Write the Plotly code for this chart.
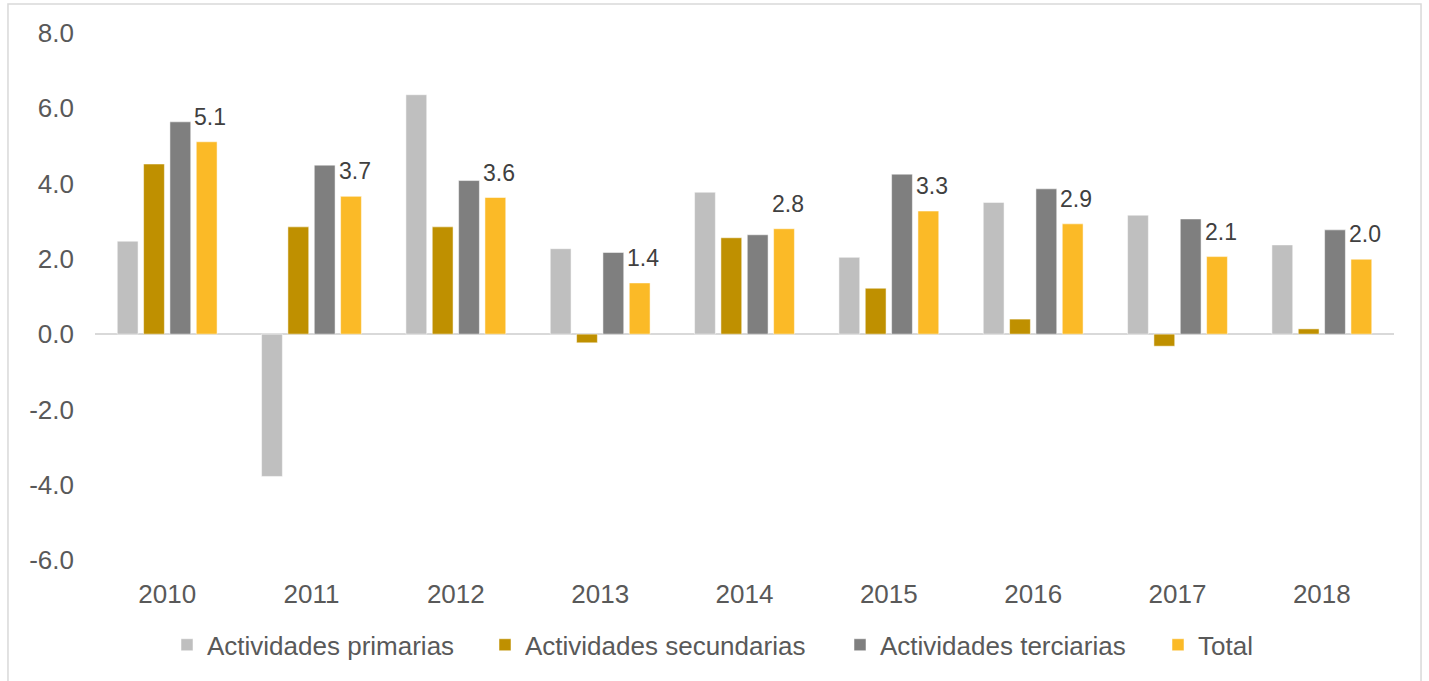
import plotly.graph_objects as go

years = ["2010", "2011", "2012", "2013", "2014", "2015", "2016", "2017", "2018"]
primarias = [2.47, -3.78, 6.36, 2.27, 3.77, 2.04, 3.50, 3.16, 2.37]
secundarias = [4.52, 2.85, 2.85, -0.23, 2.56, 1.22, 0.40, -0.32, 0.14]
terciarias = [5.64, 4.49, 4.08, 2.17, 2.64, 4.25, 3.86, 3.06, 2.77]
total = [5.11, 3.66, 3.63, 1.36, 2.80, 3.27, 2.93, 2.06, 1.99]
series_names = ["Actividades primarias", "Actividades secundarias", "Actividades terciarias", "Total"]
y_ticks = [-6, -4, -2, 0, 2, 4, 6, 8]
y_ticktext = [f"{v:.1f}" for v in y_ticks]

colors = ["#BFBFBF", "#BF9000", "#7F7F7F", "#FBBA27"]
FONT = "Liberation Sans, Arial, sans-serif"
TXT = "#595959"

# one legend box per series, so the entries sit where the reference puts them
PLOT_L, PLOT_W = 95, 1299
legend_text_px = [207, 525, 880, 1198]
legend_ids = ["legend", "legend2", "legend3", "legend4"]

fig = go.Figure()
for name, vals, col, lid in zip(series_names, [primarias, secundarias, terciarias, total], colors, legend_ids):
    fig.add_trace(go.Bar(
        x=list(years), y=list(vals), name=name, legend=lid,
        marker=dict(color=col, line=dict(color="rgba(255,255,255,0.5)", width=1)),
    ))

# data labels for the Total series (category index positions on the category axis)
for i, v in enumerate(total):
    fig.add_annotation(
        x=i, y=v, xref="x", yref="y", text=f"{v:.1f}", showarrow=False,
        xanchor="center", yanchor="bottom", xshift=43, yshift=10,
        font=dict(family=FONT, size=23, color="#404040"),
    )

# outer chart-area frame
fig.add_shape(type="rect", xref="paper", yref="paper",
              x0=-0.067, x1=1.0208, y0=-0.26, y1=1.055,
              line=dict(color="#D9D9D9", width=1.5), fillcolor="rgba(0,0,0,0)", layer="below")

legend_layout = {}
for lid, tx in zip(legend_ids, legend_text_px):
    legend_layout[lid] = dict(
        orientation="h", x=(tx - 40 - PLOT_L) / PLOT_W, xanchor="left",
        y=-0.161, yanchor="middle", bgcolor="rgba(0,0,0,0)",
        font=dict(family=FONT, size=26, color=TXT),
    )

fig.update_layout(
    width=1429, height=681,
    margin=dict(l=95, r=35, t=33, b=121),
    paper_bgcolor="white", plot_bgcolor="white",
    barmode="group", bargap=0.27, bargroupgap=0.21,
    font=dict(family=FONT, color=TXT, size=26),
    showlegend=True,
    xaxis=dict(type="category", categoryorder="array", categoryarray=years,
               range=[-0.5, 8.5], autorange=False,
               showgrid=False, showline=False, ticks="", ticklabelstandoff=16,
               tickfont=dict(family=FONT, size=26, color=TXT)),
    yaxis=dict(range=[-6, 8], autorange=False, tickvals=y_ticks, ticktext=y_ticktext, showgrid=False,
               showline=False, ticks="", ticklabelstandoff=20,
               zeroline=True, zerolinecolor="#D9D9D9", zerolinewidth=2,
               tickfont=dict(family=FONT, size=26, color=TXT)),
    **legend_layout,
)

fig.write_html("out.html", config={"displayModeBar": False},
               post_script="document.body.style.margin='0';document.body.style.overflow='hidden';")
